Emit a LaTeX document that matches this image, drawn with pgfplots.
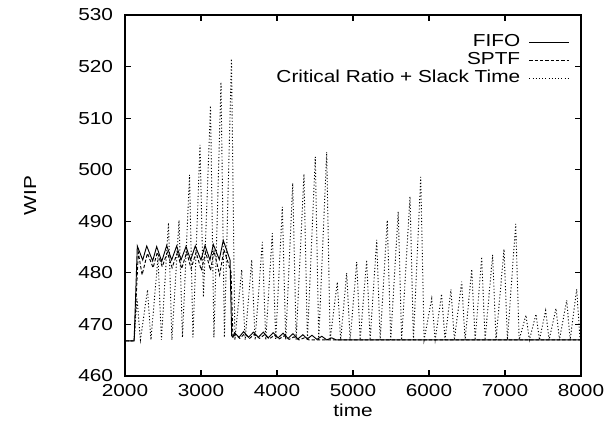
\documentclass[border=0pt]{standalone}
\usepackage{fontspec}
\setmainfont[FakeStretch=1.2]{Liberation Sans}
\usepackage{pgfplots}
\pgfplotsset{compat=1.18}
\begin{document}
\fontsize{13}{15}\selectfont
\begin{tikzpicture}
\useasboundingbox (-93.75pt,-37.5pt) rectangle (366pt,282pt);
\begin{axis}[
  at={(0,0)}, anchor=south west,
  scale only axis, width=342pt, height=270.75pt,
  xmin=2000, xmax=8000, ymin=460, ymax=530,
  xtick={2000,3000,...,8000}, ytick={460,470,...,530},
  /pgf/number format/1000 sep={},
  /pgf/number format/assume math mode=true,
  tick align=inside, major tick length=4.5pt,
  axis line style={line width=0.8pt},
  every tick/.style={black, line width=0.8pt},
  ticklabel style={font=\fontsize{13}{15}\selectfont},
  xticklabel style={yshift=-1.5pt},
  yticklabel style={xshift=-4.5pt},
  xlabel={time}, ylabel={WIP},
  every axis x label/.style={at={(axis description cs:0.5,-0.094)}, anchor=center, font=\fontsize{13}{15}\selectfont},
  every axis y label/.style={at={(axis description cs:-0.208,0.5)}, anchor=center, rotate=90, font=\fontsize{13}{15}\selectfont},
  legend plot pos=right,
  legend cell align=right,
  legend style={at={(axis description cs:0.976,0.95)}, anchor=north east, draw=none, fill=none, inner sep=0pt,
     font=\fontsize{13}{15}\selectfont,
     nodes={inner sep=0.5pt, text height=9.5pt, text depth=2.5pt},
     row sep=0.5pt, column sep=6pt},
  legend image code/.code={\draw[#1] (0pt,0pt) -- (30pt,0pt);},
]
\addplot[black, line width=0.7pt] coordinates {
(2000,466.8)(2120,466.8)(2162,485.2)(2233,482.5)(2286,485.2)(2364,482.3)(2417,485.1)(2483,482.2)(2549,485.3)(2614,482.5)(2680,485.2)(2737,482.5)(2803,485.1)(2864,482.5)(2925,485.2)(3000,482.5)(3053,485.3)(3118,482.5)(3162,485.5)(3241,482.6)(3293,486.3)(3382,482.5)(3404,467.8)
(3420,467.5)(3440,468.4)(3500,467.5)(3560,468.6)(3625,467.5)(3690,468.5)(3755,467.5)(3820,468.5)(3885,467.4)(3950,468.4)(4015,467.4)(4080,468.3)(4145,467.3)(4210,468.2)(4275,467.2)(4340,468.0)(4400,467.2)(4460,467.9)(4525,467.1)(4590,467.7)(4655,467.0)(4720,467.4)(4780,467.0)(8000,467.0)
};
\addlegendentry{FIFO}
\addplot[black, line width=0.7pt, dash pattern=on 2.5pt off 1.5pt] coordinates {
(2000,466.8)(2120,466.8)(2175,484)(2225,479.6)(2295,483.8)(2370,481)(2425,484)(2490,481.2)(2557,484)(2620,481)(2690,484)(2745,480.8)(2812,484)(2870,480.8)(2935,484)(3005,480.5)(3062,484)(3125,480.5)(3172,484.2)(3245,479.6)(3302,484.5)(3395,480.2)(3420,467.5)
(3450,468.1)(3510,467.3)(3575,468.2)(3640,467.3)(3705,468.1)(3770,467.3)(3835,468.0)(3900,467.2)(3965,467.9)(4030,467.2)(4095,467.8)(4160,467.1)(4225,467.6)(4290,467.0)(4360,467.4)(4420,467.0)(8000,467.0)
};
\addlegendentry{SPTF}
\addplot[black, line width=0.7pt, dash pattern=on 0.8pt off 1.6pt] coordinates {
(2000,466.8)(2120,466.8)(2158,475)(2203,467)(2296,476.7)(2341,467)(2434,483)(2479,467)(2572,489.7)(2617,467)(2711,490.2)(2756,467.5)(2849,499)(2894,467.5)(2987,504.8)(3032,475.3)(3125,512.4)(3170,467.5)(3263,517)(3308,467.5)(3401,521.5)(3446,467)
(3536,480.6)(3581,467)(3667,482.5)(3712,467)(3807,486)(3852,467)(3938,487.7)(3983,467)(4070,492.8)(4115,467)(4207,497.4)(4252,467)(4355,499.2)(4400,467)(4504,502.5)(4549,467)(4654,503.4)(4699,467)(4793,478.2)(4838,467)(4917,480)(4962,467)(5049,482.1)(5094,467)(5180,482.5)(5225,467)(5312,486.4)(5357,467)(5451,490.2)(5496,467)(5595,491.9)(5640,467)(5750,494.8)(5795,467)(5891,498.6)(5936,467)(6036,475)(6081,467)(6166,475.9)(6211,467)(6289,476.8)(6334,467)(6430,478.3)(6475,467)(6562,480.7)(6607,467)(6693,483.1)(6738,467)(6837,483.5)(6882,467)(6987,484.6)(7032,467)(7141,489.5)(7186,467)(7276,471.8)(7321,467)(7408,472)(7453,467)(7535,472.7)(7580,467)(7671,473.1)(7716,467)(7812,474.7)(7857,467)(7943,476.8)(7988,467)(8000,467)
};
\addlegendentry{Critical Ratio + Slack Time}
\end{axis}
\end{tikzpicture}
\end{document}
